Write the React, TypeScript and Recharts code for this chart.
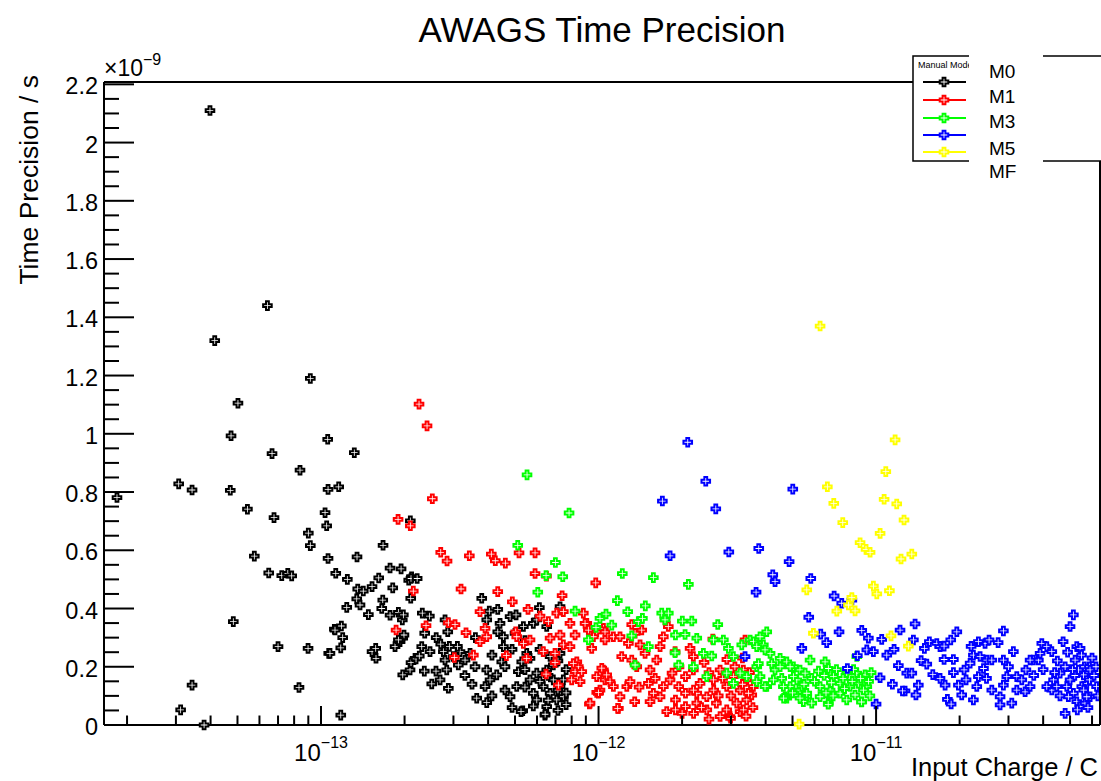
import { Scatter, ScatterChart, XAxis, YAxis } from "recharts";

// charge in C, precision in units of 1e-9 s
const m0: [number, number][] = [
  [3.98e-14, 2.11], [6.41e-14, 1.44], [4.14e-14, 1.32], [9.15e-14, 1.19], [5.02e-14, 1.105],
  [4.74e-14, 0.993], [1.057e-13, 0.981], [6.66e-14, 0.932], [1.318e-13, 0.935], [8.4e-14, 0.875],
  [3.07e-14, 0.828], [3.43e-14, 0.807], [4.71e-14, 0.806], [1.06e-13, 0.809], [1.158e-13, 0.818],
  [1.84e-14, 0.781], [5.43e-14, 0.741], [6.77e-14, 0.712], [1.034e-13, 0.729], [1.048e-13, 0.684],
  [9.0e-14, 0.659], [9.15e-14, 0.616], [1.673e-13, 0.617], [5.75e-14, 0.58], [1.06e-13, 0.572],
  [1.348e-13, 0.577], [6.48e-14, 0.522], [7.22e-14, 0.513], [7.59e-14, 0.521], [7.84e-14, 0.512],
  [1.773e-13, 0.539], [1.943e-13, 0.536], [1.13e-13, 0.521], [1.244e-13, 0.5], [1.614e-13, 0.505],
  [1.356e-13, 0.467], [1.42e-13, 0.46], [1.527e-13, 0.475], [1.813e-13, 0.471], [2.07e-13, 0.497],
  [2.12e-13, 0.509], [1.345e-13, 0.433], [1.382e-13, 0.412], [1.238e-13, 0.404], [1.669e-13, 0.429],
  [1.481e-13, 0.379], [1.655e-13, 0.4], [1.773e-13, 0.377], [1.9e-13, 0.387], [1.963e-13, 0.361],
  [1.98e-13, 0.378], [2.105e-13, 0.435], [4.83e-14, 0.355], [1.117e-13, 0.329], [1.184e-13, 0.34],
  [1.197e-13, 0.3], [7.0e-14, 0.269], [8.98e-14, 0.263], [1.066e-13, 0.246], [1.178e-13, 0.265],
  [1.527e-13, 0.252], [1.574e-13, 0.263], [1.578e-13, 0.229], [1.848e-13, 0.269], [1.926e-13, 0.286],
  [1.97e-13, 0.298], [1.99e-13, 0.309], [1.97e-13, 0.172], [2.093e-13, 0.189], [2.182e-13, 0.229],
  [3.43e-14, 0.137], [8.33e-14, 0.129], [3.12e-14, 0.052], [3.79e-14, 0.0], [1.178e-13, 0.034],
  [2.098e-13, 0.701], [2.11e-13, 0.503], [2.22e-13, 0.503], [1.123e-13, 0.326], [1.077e-13, 0.246],
  [1.9e-13, 0.292], [2.11e-13, 0.214], [2.2e-13, 0.227], [2.26e-13, 0.237], [2.356e-13, 0.185],
  [2.47e-13, 0.252], [2.306e-13, 0.269], [2.364e-13, 0.315], [2.317e-13, 0.384], [2.457e-13, 0.374],
  [2.506e-13, 0.141], [2.685e-13, 0.155], [2.876e-13, 0.126], [2.596e-13, 0.185], [2.838e-13, 0.189],
  [2.798e-13, 0.223], [2.759e-13, 0.252], [2.7e-13, 0.278], [2.862e-13, 0.32], [2.798e-13, 0.361],
  [2.998e-13, 0.235], [3.124e-13, 0.206], [3.303e-13, 0.223], [3.169e-13, 0.252], [3.443e-13, 0.246],
  [3.589e-13, 0.2], [3.64e-13, 0.092], [3.955e-13, 0.077], [3.9e-13, 0.132], [4.064e-13, 0.155],
  [3.955e-13, 0.189], [4.297e-13, 0.172], [4.479e-13, 0.217], [4.54e-13, 0.269], [4.54e-13, 0.303],
  [4.333e-13, 0.32], [4.416e-13, 0.349], [3.955e-13, 0.361], [3.794e-13, 0.435], [4.04e-13, 0.391],
  [4.333e-13, 0.397], [4.8e-13, 0.372], [5.043e-13, 0.378], [4.8e-13, 0.097], [5.072e-13, 0.132],
  [5.14e-13, 0.183], [5.287e-13, 0.217], [5.51e-13, 0.246], [5.663e-13, 0.155], [5.82e-13, 0.109],
  [5.99e-13, 0.178], [6.12e-13, 0.403], [5.82e-13, 0.349], [6.505e-13, 0.338], [6.69e-13, 0.235],
  [6.87e-13, 0.206], [7.265e-13, 0.406], [7.467e-13, 0.097], [7.467e-13, 0.155], [7.265e-13, 0.246],
  [5.33e-13, 0.049], [5.82e-13, 0.065], [6.41e-13, 0.034], [6.505e-13, 0.063], [5.99e-13, 0.086],
  [6.505e-13, 0.189], [6.87e-13, 0.155], [7.265e-13, 0.132], [7.07e-13, 0.086], [6.69e-13, 0.109],
  [6.32e-13, 0.132], [5.663e-13, 0.229], [5.0e-13, 0.315], [5.36e-13, 0.338], [5.99e-13, 0.361],
  [5.256e-13, 0.046], [6.42e-13, 0.037],
  [4.13e-13, 0.24], [4.6e-13, 0.2], [4.88e-13, 0.26], [5.43e-13, 0.19], [6.15e-13, 0.15],
  [6.58e-13, 0.17], [7.14e-13, 0.12], [7.64e-13, 0.19], [6.15e-13, 0.26], [5.43e-13, 0.29],
  [7.14e-13, 0.22], [7.64e-13, 0.11], [6.58e-13, 0.085], [4.6e-13, 0.12], [4.13e-13, 0.1],
  [5.43e-13, 0.13], [7.64e-13, 0.07], [7.14e-13, 0.05], [4.88e-13, 0.06], [3.5e-13, 0.14],
  [3.3e-13, 0.17], [3.1e-13, 0.27], [3.6e-13, 0.3], [2.6e-13, 0.3], [2.9e-13, 0.27],
];

const m1: [number, number][] = [
  [2.255e-13, 1.102], [2.41e-13, 1.027], [2.518e-13, 0.777], [1.895e-13, 0.706], [2.098e-13, 0.684],
  [2.15e-13, 0.46], [1.864e-13, 0.326], [2.7e-13, 0.593], [2.845e-13, 0.563], [3.423e-13, 0.581],
  [4.108e-13, 0.587], [4.246e-13, 0.564], [4.615e-13, 0.556], [5.17e-13, 0.591], [5.905e-13, 0.591],
  [5.905e-13, 0.52], [6.49e-13, 0.511], [9.77e-13, 0.488], [7.39e-13, 0.444], [2.39e-13, 0.341],
  [2.876e-13, 0.351], [3.04e-13, 0.345], [3.33e-13, 0.317], [3.9e-13, 0.332], [3.74e-13, 0.286],
  [3.955e-13, 0.303], [3.022e-13, 0.232], [3.54e-13, 0.24], [4.654e-13, 0.238], [5.51e-13, 0.229],
  [5.03e-13, 0.32], [5.072e-13, 0.303], [5.36e-13, 0.28], [5.663e-13, 0.292], [3.74e-13, 0.389],
  [4.333e-13, 0.458], [4.89e-13, 0.423], [3.195e-13, 0.467], [5.57e-13, 0.397], [6.155e-13, 0.374],
  [6.595e-13, 0.355], [7.07e-13, 0.384], [7.467e-13, 0.389], [7.89e-13, 0.349], [8.23e-13, 0.309],
  [8.815e-13, 0.384], [9.07e-13, 0.349], [9.85e-13, 0.32], [1.041e-12, 0.332], [1.055e-12, 0.292],
  [9.45e-13, 0.263], [7.467e-13, 0.275], [7.265e-13, 0.309], [6.69e-13, 0.298], [6.32e-13, 0.252],
  [6.97e-13, 0.246], [7.89e-13, 0.269], [6.47e-13, 0.175], [7.164e-13, 0.137], [6.97e-13, 0.214],
  [8.35e-13, 0.217], [8.456e-13, 0.2], [8.23e-13, 0.183], [8.7e-13, 0.183], [8.58e-13, 0.149],
  [8.0e-13, 0.155], [9.27e-13, 0.072], [9.85e-13, 0.112], [1.012e-12, 0.12], [1.041e-12, 0.189],
  [1.055e-12, 0.155], [1.07e-12, 0.172], [8.94e-13, 0.349], [9.19e-13, 0.326], [9.58e-13, 0.303],
  [1.055e-12, 0.32], [1.131e-12, 0.303], [1.195e-12, 0.303], [1.281e-12, 0.28], [1.411e-12, 0.275],
  [1.431e-12, 0.326], [1.354e-12, 0.315], [1.317e-12, 0.345], [8.11e-13, 0.211], [9.85e-13, 0.166],
  [1.027e-12, 0.195], [1.1e-12, 0.149], [1.131e-12, 0.132], [9.98e-13, 0.109], [9.32e-13, 0.075],
  [1.179e-12, 0.057], [1.195e-12, 0.097], [1.264e-12, 0.132], [1.212e-12, 0.235], [1.317e-12, 0.223],
  [1.373e-12, 0.2], [1.299e-12, 0.149], [1.471e-12, 0.246], [1.533e-12, 0.189], [1.621e-12, 0.223],
  [1.666e-12, 0.269], [1.712e-12, 0.303], [1.784e-12, 0.338], [1.736e-12, 0.361], [1.512e-12, 0.143],
  [1.576e-12, 0.109], [1.533e-12, 0.08], [1.666e-12, 0.097], [1.712e-12, 0.132], [1.81e-12, 0.155],
  [1.887e-12, 0.252], [2.137e-12, 0.263], [2.196e-12, 0.235], [1.84e-12, 0.178], [1.945e-12, 0.132],
  [2.057e-12, 0.166], [2.196e-12, 0.189], [2.322e-12, 0.143], [2.455e-12, 0.097], [2.593e-12, 0.155],
  [2.741e-12, 0.189], [2.897e-12, 0.132], [3.06e-12, 0.166], [3.236e-12, 0.12], [3.42e-12, 0.155],
  [3.613e-12, 0.132], [1.893e-12, 0.086], [2.057e-12, 0.063], [2.259e-12, 0.075], [2.455e-12, 0.052],
  [2.658e-12, 0.075], [2.897e-12, 0.052], [3.148e-12, 0.075], [3.42e-12, 0.086], [3.565e-12, 0.103],
  [2.741e-12, 0.029], [2.978e-12, 0.029], [3.236e-12, 0.046], [1.761e-12, 0.046], [1.893e-12, 0.052],
  [2.259e-12, 0.109], [2.057e-12, 0.109], [3.325e-12, 0.189], [2.99e-12, 0.023], [2.58e-12, 0.295],
  [3.372e-12, 0.292], [3.467e-12, 0.109], [3.325e-12, 0.052], [1.172e-12, 0.057], [1.0e-12, 0.111],
  [2.4e-12, 0.215], [2.9e-12, 0.225], [3.3e-12, 0.23], [2.6e-12, 0.12], [3.0e-12, 0.1], [2.2e-12, 0.04],
  [2.2e-12, 0.12], [2.5e-12, 0.18], [2.8e-12, 0.16], [3.1e-12, 0.2], [3.5e-12, 0.18],
  [2.35e-12, 0.06], [2.7e-12, 0.1], [3.3e-12, 0.14], [3.6e-12, 0.06], [1.95e-12, 0.2],
  [2.0e-12, 0.04], [2.5e-12, 0.02], [3.4e-12, 0.03], [1.6e-12, 0.16], [1.4e-12, 0.13], [1.35e-12, 0.08],
];

const m3: [number, number][] = [
  [5.525e-13, 0.859], [7.83e-13, 0.728], [5.115e-13, 0.617], [6.99e-13, 0.558], [6.47e-13, 0.513],
  [7.43e-13, 0.509], [6.04e-13, 0.456], [1.218e-12, 0.52], [1.576e-12, 0.506], [2.107e-12, 0.483],
  [1.169e-12, 0.427], [1.474e-12, 0.409], [1.274e-12, 0.389], [8.23e-13, 0.391], [1.012e-12, 0.366],
  [1.064e-12, 0.381], [1.116e-12, 0.343], [9.79e-13, 0.335], [1.391e-12, 0.355], [1.439e-12, 0.366],
  [1.689e-12, 0.384], [1.784e-12, 0.384], [1.736e-12, 0.361], [2.004e-12, 0.357], [2.168e-12, 0.357],
  [2.689e-12, 0.345], [1.893e-12, 0.309], [2.05e-12, 0.311], [2.259e-12, 0.298], [2.593e-12, 0.292],
  [2.817e-12, 0.292], [9.19e-13, 0.292], [1.317e-12, 0.306], [1.512e-12, 0.269], [1.887e-12, 0.248],
  [1.354e-12, 0.206], [1.945e-12, 0.206], [2.196e-12, 0.2], [2.386e-12, 0.246], [2.558e-12, 0.237],
  [2.937e-12, 0.263], [3.281e-12, 0.275], [3.06e-12, 0.235], [3.516e-12, 0.292], [3.819e-12, 0.275],
  [4.037e-12, 0.32], [3.819e-12, 0.303], [4.15e-12, 0.246], [3.716e-12, 0.2], [4.51e-12, 0.229],
  [4.767e-12, 0.217], [5.035e-12, 0.2], [5.32e-12, 0.189], [5.55e-12, 0.178], [5.18e-12, 0.155],
  [4.9e-12, 0.132], [5.32e-12, 0.12], [5.627e-12, 0.097], [4.767e-12, 0.092], [4.573e-12, 0.16],
  [4.265e-12, 0.155], [4.037e-12, 0.132], [3.819e-12, 0.166], [4.325e-12, 0.189], [2.455e-12, 0.166],
  [2.897e-12, 0.178], [3.236e-12, 0.178], [3.42e-12, 0.166], [3.06e-12, 0.143], [3.766e-12, 0.211],
  [4.7e-12, 0.097], [3.613e-12, 0.286], [3.925e-12, 0.275], [3.716e-12, 0.269], [3.98e-12, 0.258],
  [4.208e-12, 0.211], [4.51e-12, 0.2], [4.9e-12, 0.2], [5.783e-12, 0.223], [6.55e-12, 0.217],
  [6.73e-12, 0.194], [3.716e-12, 0.149], [3.98e-12, 0.132], [4.634e-12, 0.132], [5.035e-12, 0.166],
  [5.4e-12, 0.132], [5.627e-12, 0.109], [5.47e-12, 0.08], [5.865e-12, 0.075], [5.865e-12, 0.16],
  [6.284e-12, 0.132], [6.284e-12, 0.097], [6.73e-12, 0.075], [6.83e-12, 0.12], [7.02e-12, 0.166],
  [7.42e-12, 0.143], [7.42e-12, 0.109], [7.84e-12, 0.086], [8.06e-12, 0.132], [8.52e-12, 0.178],
  [8.63e-12, 0.143], [8.88e-12, 0.08], [9.26e-12, 0.132], [9.13e-12, 0.172], [7.84e-12, 0.178],
  [8.4e-12, 0.103], [8.52e-12, 0.235], [6.72e-12, 0.071], [4.645e-12, 0.092], [8.86e-12, 0.079],
  [5.32e-12, 0.092], [6.0e-12, 0.15], [6.5e-12, 0.17], [7.2e-12, 0.19], [7.6e-12, 0.16],
  [8.2e-12, 0.15], [9.0e-12, 0.12], [9.4e-12, 0.15], [6.9e-12, 0.145],
  [5.0e-12, 0.11], [5.5e-12, 0.14], [6.2e-12, 0.185], [7.0e-12, 0.1], [7.7e-12, 0.125],
  [8.3e-12, 0.19], [8.8e-12, 0.16], [9.5e-12, 0.1], [9.6e-12, 0.18], [6.6e-12, 0.11],
];

const m5: [number, number][] = [
  [2.096e-12, 0.971], [2.434e-12, 0.837], [1.698e-12, 0.769], [2.645e-12, 0.742], [5.01e-12, 0.81],
  [1.81e-12, 0.581], [2.947e-12, 0.594], [3.778e-12, 0.606], [4.86e-12, 0.561], [4.244e-12, 0.516],
  [4.325e-12, 0.492], [5.817e-12, 0.503], [3.695e-12, 0.456], [7.06e-12, 0.443], [7.52e-12, 0.418],
  [8.18e-12, 0.429], [5.72e-12, 0.37], [5.4e-12, 0.263], [6.32e-12, 0.312], [6.64e-12, 0.283],
  [7.355e-12, 0.32], [8.88e-12, 0.325], [9.38e-12, 0.298], [9.26e-12, 0.258], [9.78e-12, 0.252],
  [7.88e-12, 0.194], [8.56e-12, 0.238], [1.048e-11, 0.294], [1.093e-11, 0.24], [1.161e-11, 0.26],
  [1.22e-11, 0.326], [1.382e-11, 0.347], [1.363e-11, 0.292], [1.034e-11, 0.162], [1.145e-11, 0.14],
  [1.203e-11, 0.204], [1.272e-11, 0.117], [1.29e-11, 0.178], [1.345e-11, 0.178], [1.42e-11, 0.137],
  [1.0e-11, 0.072], [1.453e-11, 0.221], [1.523e-11, 0.209], [1.493e-11, 0.263], [1.556e-11, 0.286],
  [1.655e-11, 0.28], [1.7e-11, 0.269], [1.758e-11, 0.271], [1.858e-11, 0.292], [1.954e-11, 0.32],
  [1.601e-11, 0.173], [1.7e-11, 0.16], [1.773e-11, 0.137], [1.758e-11, 0.225], [1.899e-11, 0.225],
  [1.807e-11, 0.088], [1.864e-11, 0.072], [1.98e-11, 0.137], [2.035e-11, 0.103], [2.11e-11, 0.155],
  [2.182e-11, 0.212], [2.242e-11, 0.24], [2.306e-11, 0.132], [2.337e-11, 0.166], [2.37e-11, 0.235],
  [2.506e-11, 0.223], [2.612e-11, 0.223], [2.438e-11, 0.194], [2.47e-11, 0.28], [2.337e-11, 0.286],
  [2.554e-11, 0.292], [2.753e-11, 0.283], [2.242e-11, 0.086], [2.612e-11, 0.12], [2.798e-11, 0.097],
  [2.798e-11, 0.069], [3.083e-11, 0.075], [2.876e-11, 0.137], [2.958e-11, 0.166], [2.876e-11, 0.223],
  [3.124e-11, 0.252], [3.214e-11, 0.166], [3.35e-11, 0.155], [3.443e-11, 0.114], [3.589e-11, 0.132],
  [3.688e-11, 0.223], [3.845e-11, 0.223], [3.955e-11, 0.28], [4.122e-11, 0.269], [4.297e-11, 0.252],
  [2.876e-11, 0.323], [4.297e-11, 0.12], [4.479e-11, 0.132], [4.604e-11, 0.178], [4.8e-11, 0.2],
  [5.0e-11, 0.155], [5.14e-11, 0.109], [5.287e-11, 0.08], [5.434e-11, 0.063], [5.663e-11, 0.075],
  [5.905e-11, 0.097], [5.744e-11, 0.143], [5.585e-11, 0.172], [5.36e-11, 0.189], [5.214e-11, 0.223],
  [5.287e-11, 0.269], [5.434e-11, 0.263], [5.63e-11, 0.2], [5.87e-11, 0.2], [5.0e-11, 0.338],
  [5.14e-11, 0.378], [4.8e-11, 0.04], [5.31e-11, 0.052], [4.72e-11, 0.286], [5.905e-11, 0.189],
  [5.87e-11, 0.155], [6.23e-11, 0.132], [2.075e-11, 0.189], [3.214e-11, 0.12], [3.466e-11, 0.189],
  [3.589e-11, 0.223], [3.9e-11, 0.246], [4.122e-11, 0.132], [4.36e-11, 0.155], [4.866e-11, 0.132],
  [4.93e-11, 0.097], [5.51e-11, 0.132], [5.744e-11, 0.097], [1.245e-11, 0.117], [1.392e-11, 0.103],
  [3.372e-12, 0.235], [4.5e-11, 0.22], [5.5e-11, 0.24], [6.0e-11, 0.23], [5.2e-11, 0.17],
  [6.1e-11, 0.17], [4.0e-11, 0.19], [4.6e-11, 0.1],
  [4.9e-11, 0.25], [5.6e-11, 0.12], [6.2e-11, 0.2], [6.3e-11, 0.1], [5.1e-11, 0.19], [4.4e-11, 0.18],
  [5.8e-11, 0.06], [3.7e-11, 0.17], [3.0e-11, 0.2], [2.5e-11, 0.16], [1.9e-11, 0.18], [2.2e-11, 0.27],
];

const mf: [number, number][] = [
  [6.284e-12, 1.37], [1.171e-11, 0.979], [1.084e-11, 0.87], [6.675e-12, 0.818], [7.04e-12, 0.761],
  [1.069e-11, 0.775], [1.187e-11, 0.759], [7.585e-12, 0.695], [1.261e-11, 0.704], [1.034e-11, 0.658],
  [8.757e-12, 0.626], [9.2e-12, 0.603], [9.515e-12, 0.593], [1.23e-11, 0.57], [1.345e-11, 0.587],
  [5.627e-12, 0.464], [9.78e-12, 0.477], [1.006e-11, 0.45], [1.117e-11, 0.461], [8.18e-12, 0.438],
  [7.22e-12, 0.391], [7.95e-12, 0.412], [8.4e-12, 0.392], [5.944e-12, 0.315], [1.132e-11, 0.306],
  [1.307e-11, 0.271], [5.28e-12, 0.003],
];

const seriesNames = ["M0", "M1", "M3", "M5", "MF"];
const seriesColors = ["#000000", "#ff0000", "#00ff00", "#0000ff", "#ffff00"];
const seriesData = [m0, m1, m3, m5, mf];

const xDecades = [-14, -13, -12, -11];
const xMantissas = [1, 2, 3, 4, 5, 6, 7, 8, 9];
const xDomain: [number, number] = [1.652e-14, 6.41e-11];
const yDomain: [number, number] = [0, 2.208];

const xTicks = xDecades
  .flatMap((d) => xMantissas.map((m) => m * Math.pow(10, d)))
  .filter((v) => v >= xDomain[0] && v <= xDomain[1]);
const yTicks = Array.from({ length: 45 }, (_, i) => +(i * 0.05).toFixed(2));

const FONT = "'Liberation Sans', Arial, Helvetica, sans-serif";
const LEFT = 104;
const BOTTOM = 725;

function crossPath(cx: number, cy: number) {
  const s = 4.3;
  const a = 1.4;
  const pts = [
    [-a, -s], [a, -s], [a, -a], [s, -a], [s, a], [a, a],
    [a, s], [-a, s], [-a, a], [-s, a], [-s, -a], [-a, -a],
  ];
  return "M" + pts.map(([dx, dy]) => `${cx + dx},${cy + dy}`).join("L") + "Z";
}

const crossShape = (color: string) => (props: any) => {
  const { cx, cy } = props;
  if (cx == null || cy == null) return <g />;
  return <path d={crossPath(cx, cy)} fill="#fff" stroke={color} strokeWidth={2} />;
};

function XTick(props: any) {
  const { x, payload } = props;
  const e = Math.log10(payload.value);
  const major = Math.abs(e - Math.round(e)) < 1e-6;
  return (
    <g>
      <line x1={x} x2={x} y1={BOTTOM} y2={BOTTOM - (major ? 19 : 9.5)} stroke="#000" strokeWidth={2} />
      {major && (
        <text x={x} y={761} textAnchor="middle" fontSize={24} fontFamily={FONT} fill="#000">
          10
          <tspan dy={-13} fontSize={16}>
            {"\u2212" + Math.abs(Math.round(e))}
          </tspan>
        </text>
      )}
    </g>
  );
}

function YTick(props: any) {
  const { y, payload } = props;
  const v = payload.value;
  const major = Math.abs(v / 0.2 - Math.round(v / 0.2)) < 1e-6;
  const label = Number.isInteger(Math.round(v * 10) / 10) ? String(Math.round(v)) : v.toFixed(1);
  return (
    <g>
      <line x1={LEFT} x2={LEFT + (major ? 30 : 15)} y1={y} y2={y} stroke="#000" strokeWidth={2} />
      {major && (
        <text x={98} y={y + 2} textAnchor="end" dominantBaseline="central" fontSize={23.5} fontFamily={FONT} fill="#000">
          {label}
        </text>
      )}
    </g>
  );
}

export default function App() {
  const legendRows = [82, 100, 118, 135, 152];
  const labelRows = [78, 103, 128, 155, 178];
  return (
    <div style={{ position: "absolute", left: 0, top: 0, width: 1101, height: 781, background: "#fff" }}>
      <ScatterChart width={1101} height={781} margin={{ top: 82, right: 1, bottom: 26, left: 44 }}>
        <XAxis
          dataKey="x"
          type="number"
          scale="log"
          domain={xDomain}
          ticks={xTicks}
          interval={0}
          height={30}
          tickLine={false}
          axisLine={{ stroke: "#000", strokeWidth: 2 }}
          tick={(p: any) => <XTick {...p} />}
        />
        <YAxis
          dataKey="y"
          type="number"
          domain={yDomain}
          ticks={yTicks}
          interval={0}
          width={60}
          tickLine={false}
          axisLine={{ stroke: "#000", strokeWidth: 2 }}
          tick={(p: any) => <YTick {...p} />}
        />
        {seriesData.map((arr, i) => (
          <Scatter
            key={seriesNames[i]}
            name={seriesNames[i]}
            data={arr.map(([x, y]) => ({ x, y }))}
            shape={crossShape(seriesColors[i])}
            isAnimationActive={false}
          />
        ))}
      </ScatterChart>
      <svg
        width={1101}
        height={781}
        style={{ position: "absolute", left: 0, top: 0, pointerEvents: "none" }}
        fontFamily={FONT}
      >
        <line x1={LEFT} x2={1100} y1={82} y2={82} stroke="#000" strokeWidth={2} />
        <line x1={1100} x2={1100} y1={82} y2={BOTTOM} stroke="#000" strokeWidth={2} />
        <text x={602} y={42} textAnchor="middle" fontSize={35} fill="#000">
          AWAGS Time Precision
        </text>
        <text transform="translate(38,75) rotate(-90)" textAnchor="end" fontSize={26.5} fill="#000">
          Time Precision / s
        </text>
        <text x={1098} y={776} textAnchor="end" fontSize={25.5} fill="#000">
          Input Charge / C
        </text>
        <text x={LEFT} y={76} fontSize={23} fill="#000">
          ×10
          <tspan dy={-11} fontSize={16}>
            {"\u22129"}
          </tspan>
        </text>
        <rect x={913} y={56} width={200} height={105} fill="#fff" stroke="#000" strokeWidth={1.5} />
        <text x={918} y={68} fontSize={9} fill="#000">
          Manual Mode
        </text>
        {legendRows.map((ly, i) => (
          <g key={seriesNames[i]}>
            <line x1={923} x2={966} y1={ly} y2={ly} stroke={seriesColors[i]} strokeWidth={2} />
            <path d={crossPath(944, ly)} fill="#fff" stroke={seriesColors[i]} strokeWidth={2} />
          </g>
        ))}
        <rect x={969} y={55} width={74} height={128} fill="#fff" />
        {labelRows.map((ly, i) => (
          <text key={seriesNames[i]} x={989} y={ly} fontSize={19} fill="#000">
            {seriesNames[i]}
          </text>
        ))}
      </svg>
    </div>
  );
}
